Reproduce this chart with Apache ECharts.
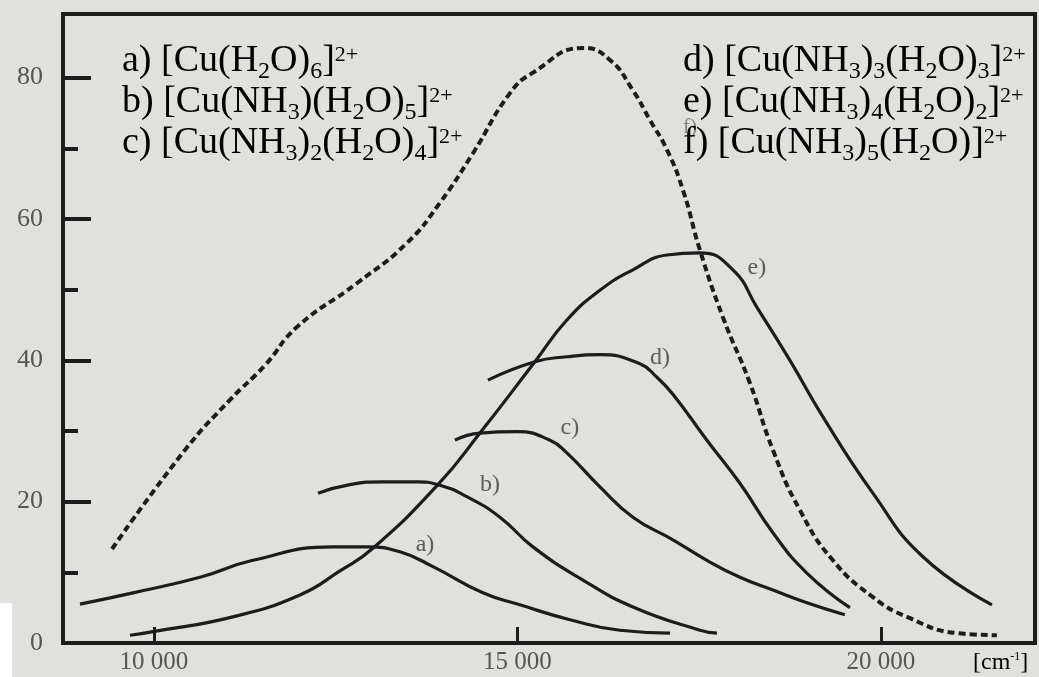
<!DOCTYPE html>
<html lang="en">
<head>
<meta charset="UTF-8">
<title>Cu ammine spectra</title>
<script src="https://cdn.jsdelivr.net/npm/echarts@6/dist/echarts.min.js"></script>
<style>
  html, body { margin: 0; padding: 0; background: #e0e0dc; }
  #chart { width: 1039px; height: 677px; }
</style>
</head>
<body>
<div id="chart"></div>
<script>
// wavenumber [cm-1] / intensity pairs
var curveA = [[8984,5.5],[9713,7.1],[10634,9.3],[11363,11.7],[12463,13.6],[12931,13.6],[13385,12.9],[13839,10.8],[14526,7.1],[15035,5.4],[15723,3.3],[16411,1.8],[17099,1.4]];
var curveB = [[12257,21.2],[12697,22.4],[13151,22.8],[13619,22.8],[13907,22.4],[14306,20.7],[14760,17.8],[15214,13.6],[15902,8.9],[16590,5.1],[17511,1.8],[17745,1.4]];
var curveC = [[14141,28.7],[14485,29.7],[14994,29.9],[15448,28.7],[15681,26.9],[16135,22.1],[16589,17.8],[17139,14.6],[17607,11.7],[18061,9.3],[18515,7.5],[18982,5.7],[19505,4.0]];
var curveD = [[14595,37.2],[15241,39.8],[15681,40.5],[16135,40.8],[16685,39.5],[16919,37.6],[17139,35.2],[17607,28.7],[18061,22.6],[18515,15.6],[18982,9.9],[19574,5.0]];
var curveE = [[9671,1.1],[9988,1.6],[11088,3.7],[12009,6.8],[12559,10.2],[13013,13.4],[13907,22.4],[14485,29.7],[15241,39.8],[15681,45.7],[16135,49.9],[16589,52.8],[17057,54.9],[17511,55.2],[17965,52.8],[18295,47.5],[18749,40.0],[19203,32.0],[19890,21.2],[20578,12.2],[21527,5.4]];
var curveF = [[9424,13.3],[10428,27.3],[11047,34.4],[11528,39.3],[11968,44.7],[12793,50.9],[13481,56.6],[13935,62.3],[14389,69.3],[14898,77.8],[15214,80.7],[15902,84.2],[16273,82.5],[16589,78.2],[16823,74.0],[17057,69.8],[17277,64.1],[17511,55.6],[17827,46.1],[18198,36.8],[18515,27.3],[18886,18.8],[19340,11.7],[19890,6.5],[20358,3.7],[21045,1.4],[21595,1.1]];

// where each curve letter sits
var curveTags = [[13729,13.9,'a)'],[14623,22.4,'b)'],[15723,30.4,'c)'],[16961,40.3,'d)'],[18295,53.1,'e)']];
var hiddenTag = [[17373,73.0,'f)']];

var xTicks = [10000, 15000, 20000];
var yMajor = [20, 40, 60, 80];
var yLabels = [0, 20, 40, 60, 80];
var yMinor = [10, 30, 50, 70];

// legend lines, rich text tokens
var legendLeft = [
  '{n|a) [Cu(H}{s|2}{n|O)}{s|6}{n|]}{p|2+}',
  '{n|b) [Cu(NH}{s|3}{n|)(H}{s|2}{n|O)}{s|5}{n|]}{p|2+}',
  '{n|c) [Cu(NH}{s|3}{n|)}{s|2}{n|(H}{s|2}{n|O)}{s|4}{n|]}{p|2+}'
];
var legendRight = [
  '{n|d) [Cu(NH}{s|3}{n|)}{s|3}{n|(H}{s|2}{n|O)}{s|3}{n|]}{p|2+}',
  '{n|e) [Cu(NH}{s|3}{n|)}{s|4}{n|(H}{s|2}{n|O)}{s|2}{n|]}{p|2+}',
  '{n|f) [Cu(NH}{s|3}{n|)}{s|5}{n|(H}{s|2}{n|O)]}{p|2+}'
];

var serif = 'Liberation Serif';
var ink = '#1c1c1c';
var navy = '#0f2b6b';

var legendRich = {
  n: { fontSize: 38, fontFamily: serif, color: navy, lineHeight: 41, height: 41 },
  s: { fontSize: 24, fontFamily: serif, color: navy, lineHeight: 20, height: 20, verticalAlign: 'bottom' },
  p: { fontSize: 22, fontFamily: serif, color: navy, lineHeight: 28, height: 28, verticalAlign: 'top' }
};

var chart = echarts.init(document.getElementById('chart'));

function line(data, dashed) {
  return {
    type: 'line',
    data: data,
    smooth: 0.5,
    showSymbol: false,
    silent: true,
    lineStyle: dashed
      ? { color: ink, width: 4, type: [7, 4] }
      : { color: ink, width: 3.2 },
    z: 3
  };
}

function tags(data, color, size) {
  return {
    type: 'scatter',
    data: data,
    symbolSize: 0,
    silent: true,
    label: {
      show: true,
      position: 'inside',
      formatter: function (p) { return p.data[2]; },
      fontFamily: serif,
      fontSize: size,
      color: color
    },
    z: 2
  };
}

var option = {
  backgroundColor: '#e0e0dc',
  animation: false,
  grid: {
    left: 63, right: 4, top: 14, bottom: 34,
    show: true, borderColor: '#1e1e1e', borderWidth: 4, backgroundColor: 'transparent',
    z: 5
  },
  xAxis: {
    type: 'value',
    min: 8750, max: 22120,
    splitLine: { show: false },
    axisLine: { show: false },
    axisTick: { show: true, inside: true, length: 16, customValues: xTicks, lineStyle: { color: ink, width: 3 } },
    axisLabel: {
      customValues: xTicks, margin: 7,
      fontFamily: serif, fontSize: 25, color: '#555',
      formatter: function (v) { return String(v).replace(/(\d+)(\d{3})$/, '$1 $2'); }
    }
  },
  yAxis: [
    {
      type: 'value', min: 0, max: 89,
      splitLine: { show: false },
      axisLine: { show: false },
      axisTick: { show: true, inside: true, length: 28, customValues: yMajor, lineStyle: { color: ink, width: 4 } },
      axisLabel: { customValues: yLabels, margin: 20, fontFamily: serif, fontSize: 26, color: '#555' }
    },
    {
      type: 'value', min: 0, max: 89, position: 'left',
      splitLine: { show: false },
      axisLine: { show: false },
      axisTick: { show: true, inside: true, length: 15, customValues: yMinor, lineStyle: { color: ink, width: 4 } },
      axisLabel: { show: false }
    }
  ],
  series: [
    line(curveA), line(curveB), line(curveC), line(curveD), line(curveE), line(curveF, true),
    tags(curveTags, '#3a3a3a', 24),
    tags(hiddenTag, '#6a6a6a', 21)
  ],
  graphic: [
    { type: 'rect', left: 0, top: 603, shape: { width: 12, height: 74 }, style: { fill: '#ffffff' }, z: 1 },
    { type: 'text', x: 122, y: 41, z: 10, style: { text: legendLeft.join('\n'), rich: legendRich } },
    { type: 'text', x: 683, y: 41, z: 10, style: { text: legendRight.join('\n'), rich: legendRich } },
    {
      type: 'text', x: 973, y: 650, z: 10,
      style: {
        text: '{n|[cm}{p|-1}{n|]}',
        rich: {
          n: { fontSize: 24, fontFamily: serif, color: '#555', height: 26, lineHeight: 26 },
          p: { fontSize: 12, fontFamily: serif, color: '#555', height: 14, lineHeight: 14, verticalAlign: 'top' }
        }
      }
    }
  ]
};

chart.setOption(option);
</script>
</body>
</html>
